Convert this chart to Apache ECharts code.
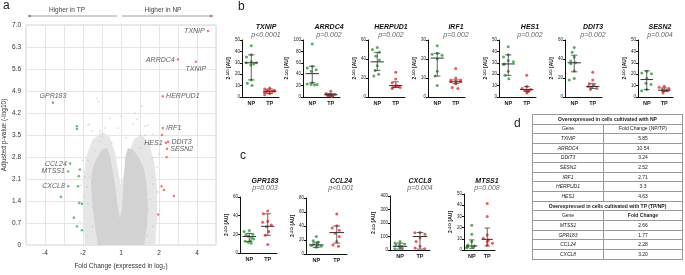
<!DOCTYPE html>
<html lang="en">
<head>
<meta charset="utf-8"/>
<script src="https://cdn.jsdelivr.net/npm/echarts@6.0.0/dist/echarts.min.js"></script>
<style>
  body { margin: 0; background: #fff; }
  #container { position: absolute; left: 0; top: 0; width: 685px; height: 275px; }
  #tbl { position: absolute; left: 532px; top: 114px; width: 151px; border-collapse: collapse;
         font-family: 'Liberation Sans', Arial, sans-serif; font-size: 5px; color: #222; }
  #tbl td { border: 0.8px solid #999; padding: 0; text-align: center; line-height: 1; }
  #tbl tr { height: 9.65px; }
  #tbl .g { font-style: italic; }
  #tbl .h { font-weight: bold; }
</style>
</head>
<body>
<div id="container"></div>
<table id="tbl"></table>
<script type="text/javascript">
// ---- panel a: volcano ----
var fcTickPos = [-2, -1, 0, 1, 2];
var fcTickText = ['-4', '-2', '1', '2', '4'];

// outline of the sparse grey halo and of the dense grey cloud (log2 FC, -log10 p)
var haloOutline = [
  [-0.95, 0], [-1.0, 1.0], [-1.0, 2.0], [-0.92, 2.8], [-0.75, 3.35], [-0.5, 3.6], [-0.3, 3.45],
  [-0.15, 2.9], [-0.05, 2.2], [0, 1.9], [0.08, 2.3], [0.2, 2.9], [0.35, 3.4], [0.55, 3.5],
  [0.75, 3.2], [0.88, 2.6], [0.95, 1.8], [0.95, 0.9], [0.9, 0]
];
var cloudOutline = [
  [-0.61, 0], [-0.68, 0.59], [-0.76, 1.38], [-0.79, 2.0], [-0.74, 2.47], [-0.63, 2.78],
  [-0.5, 3.03], [-0.37, 3.09], [-0.29, 2.84], [-0.21, 2.31], [-0.13, 1.69], [-0.08, 1.16],
  [-0.03, 0.84], [0.03, 1.16], [0.05, 1.69], [0.08, 2.31], [0.11, 2.78], [0.18, 3.09],
  [0.32, 3.03], [0.47, 2.78], [0.61, 2.41], [0.68, 1.84], [0.71, 1.22], [0.68, 0.59], [0.61, 0]
];
var greyPoints = [
  [-0.63, 4.66], [-0.61, 4.56], [-0.84, 3.84], [-0.42, 3.72], [0.55, 4.41], [0.37, 4.19],
  [0.32, 3.84], [0.63, 3.78], [0.71, 3.81], [0.42, 4.0], [-0.5, 3.47], [0.5, 3.5], [0.84, 3.53],
  [-0.87, 3.81], [-0.76, 3.63], [-0.55, 3.31], [-0.08, 3.72], [0.63, 3.5], [0.76, 3.19],
  [-0.68, 3.0], [-0.87, 2.69], [-0.95, 2.16], [-0.95, 1.53], [-0.76, 1.22], [0.82, 2.78],
  [0.84, 1.94], [0.76, 1.44], [0.71, 1.13], [-0.82, 2.16], [-0.89, 1.84], [-0.87, 1.31],
  [-0.74, 0.59], [-0.89, 0.28], [0.82, 2.16], [0.84, 0.59], [0.68, 0.28], [-0.55, 3.63],
  [-1.0, 2.69], [0.5, 3.09], [0.95, 2.47], [-0.24, 3.25], [0.13, 3.41], [-0.29, 4.03],
  [0.0, 4.1], [-1.08, 0.75], [0.97, 1.69], [-1.05, 1.9], [1.02, 1.1], [1.0, 2.9], [-1.1, 2.4]
];
var redPoints = [
  [2.29, 6.81, 'TXNIP'], [1.97, 5.83, 'TXNIP'], [1.50, 5.90, 'ARRDC4'], [1.10, 4.73, 'HERPUD1'],
  [1.10, 3.72, 'IRF1'], [1.08, 3.50, ''], [1.18, 3.25, 'HES1'], [1.24, 3.28, 'DDIT3'],
  [1.21, 3.06, 'SESN2'], [1.20, 2.80, ''], [1.07, 1.87, ''], [1.13, 1.75, ''],
  [1.39, 1.56, ''], [0.98, 0.97, '']
];
var greenPoints = [
  [-1.79, 4.53, 'GPR183'], [-1.16, 3.78, ''], [-1.16, 3.69, ''], [-1.34, 2.59, 'CCL24'],
  [-1.08, 2.40, ''], [-1.39, 2.34, 'MTSS1'], [-1.11, 2.19, ''], [-1.39, 1.87, 'CXCL8'],
  [-1.13, 1.87, ''], [-1.58, 1.53, ''], [-1.10, 1.34, ''], [-1.03, 1.31, ''],
  [-1.24, 0.87, ''], [-1.16, 0.59, ''], [-1.03, 0.47, '']
];
var redLabelPos = ['left', 'bottom', 'left', 'right', 'right', 'right', 'left', 'right', 'right', 'right', 'right', 'right', 'right', 'right'];
var greenLabelPos = ['top', 'left', 'left', 'left', 'left', 'left', 'left', 'left', 'left', 'left', 'left', 'left', 'left', 'left', 'left'];

// ---- panel b ----
var bGenes = ['TXNIP', 'ARRDC4', 'HERPUD1', 'IRF1', 'HES1', 'DDIT3', 'SESN2'];
var bPvals = ['p<0.0001', 'p=0.002', 'p=0.002', 'p=0.002', 'p=0.002', 'p=0.002', 'p=0.004'];
var bYMax = [50, 100, 60, 30, 50, 60, 50];
var bYStep = [10, 20, 20, 10, 10, 20, 10];
var bNP = [
  [45, 37, 35, 31, 30, 30, 29, 28, 15, 12, 10],
  [93, 54, 51, 48, 45, 25, 23, 22, 22, 21],
  [52, 50, 47, 43, 39, 33, 28, 24, 22],
  [27, 23, 22.5, 22, 20, 13.5, 11, 6],
  [44, 37, 35, 32, 31, 29, 28.5, 22.5, 19, 16],
  [52, 47, 42, 38, 36, 35, 27.5, 19.5, 18],
  [22.5, 21, 20.5, 16.5, 12, 11, 6.5, 5.5]
];
var bTP = [
  [8, 7, 6, 6, 5, 5, 5, 4, 4, 3, 2],
  [10, 6, 5, 5, 4, 4, 3, 3, 2, 2, 1],
  [26, 19, 15, 12, 11, 11, 10, 10, 9],
  [15, 10, 9, 9, 8, 8, 8, 7, 5, 4.5],
  [19, 9.5, 7.5, 6.5, 6, 5.5, 5, 4.5, 3.5],
  [26, 18, 14, 12, 11, 10.5, 9, 8],
  [9.5, 8.5, 7.5, 6.5, 6, 5.5, 5, 3.5]
];
// [centre, low, high]
var bNPbar = [[30, 15, 37], [41, 25, 54], [37, 28, 47], [20.5, 11, 23], [29, 19, 37], [36, 26.5, 44], [15.3, 6.5, 23]];
var bTPbar = [[5, 3, 7], [4, 2, 6], [12, 10, 16], [8, 7, 9], [6.5, 5, 9], [11, 9, 14], [6, 5, 8]];

// ---- panel c ----
var cGenes = ['GPR183', 'CCL24', 'CXCL8', 'MTSS1'];
var cPvals = ['p=0.003', 'p<0.001', 'p=0.004', 'p=0.008'];
var cYMax = [60, 80, 400, 50];
var cYStep = [20, 20, 100, 10];
var cNP = [
  [24, 23, 20, 19.5, 18, 16, 15, 13, 12.5, 11.5, 10.5],
  [25, 19, 17, 15.5, 14, 13, 12, 11, 9.5],
  [63, 51, 45, 39, 33, 27, 20, 15, 10],
  [22, 14, 7.5, 4.5, 3.5, 3, 2.5, 2.5, 2]
];
var cTP = [
  [45, 42, 34, 33, 30, 28, 23, 19, 9],
  [57, 40.5, 37, 34, 29.5, 25, 18, 13, 11],
  [129, 127, 117, 88, 63, 27, 15, 10],
  [41.5, 30, 13.5, 10.5, 9, 7.5, 6, 4.5]
];
var cNPbar = [[17.7, 12.4, 21], [13, 9.5, 17], [27, 7, 51], [3.6, 1.5, 9]];
var cTPbar = [[28.6, 19, 42], [30.6, 15.5, 40], [100, 7, 129], [9.5, 3.6, 19.6]];

// ---- panel d ----
var npGenes = ['TXNIP', 'ARRDC4', 'DDIT3', 'SESN2', 'IRF1', 'HERPUD1', 'HES1'];
var npFold = ['5.85', '10.54', '3.24', '2.52', '2.71', '3.3', '4.63'];
var tpGenes = ['MTSS1', 'GPR183', 'CCL24', 'CXCL8'];
var tpFold = ['2.66', '1.77', '2.28', '3.20'];

// layout of the small plots
var bLayout = [
  {left: 242, w: 37, tx: 266}, {left: 303, w: 37, tx: 329}, {left: 368, w: 37, tx: 391},
  {left: 428, w: 37, tx: 456}, {left: 499, w: 37, tx: 530}, {left: 565, w: 37, tx: 593},
  {left: 638, w: 35, tx: 660}
];
var cLayout = [
  {left: 240, w: 37, top: 197, h: 56, tx: 265}, {left: 306, w: 41, top: 198, h: 56, tx: 341},
  {left: 390, w: 40, top: 196, h: 54, tx: 420}, {left: 464, w: 31, top: 194, h: 56, tx: 487}
];

var FONT = "'Liberation Sans', Arial, sans-serif";
var GREEN = '#2f9a3a', RED = '#ec2f2f';

var myChart = echarts.init(document.getElementById('container'));
var grids = [], xAxes = [], yAxes = [], series = [], texts = [];

function txt(x, y, s, font, fill, align) {
  return {type: 'text', x: x, y: y, z: 10, style: {text: s, font: font, fill: fill || '#222',
    textAlign: align || 'center', textVerticalAlign: 'middle', align: align || 'center', verticalAlign: 'middle'}};
}

// volcano grid
grids.push({left: 26, top: 25, width: 190, height: 224, show: true, borderColor: '#d5d5d5', borderWidth: 1});
xAxes.push({
  gridIndex: 0, type: 'value', min: -2.5, max: 2.5, interval: 0.5,
  axisLine: {show: false}, axisTick: {show: false},
  axisLabel: {fontSize: 6.5, color: '#333', margin: 5, fontFamily: FONT,
    formatter: function (v) { var i = fcTickPos.indexOf(v); return i < 0 ? '' : fcTickText[i]; }},
  splitLine: {lineStyle: {color: '#e6e6e6'}},
  name: 'Fold Change (expressed in log\u2082)', nameLocation: 'middle', nameGap: 18,
  nameTextStyle: {fontSize: 6.5, color: '#333', fontFamily: FONT}
});
yAxes.push({
  gridIndex: 0, type: 'value', min: 0, max: 7, interval: 0.7,
  axisLine: {show: false}, axisTick: {show: false},
  axisLabel: {fontSize: 6.5, color: '#333', margin: 5, fontFamily: FONT,
    formatter: function (v) { return v === 0 ? '0' : v.toFixed(1); }},
  splitLine: {lineStyle: {color: '#e6e6e6'}},
  name: 'Adjusted p-value (-log10)', nameLocation: 'middle', nameGap: 15,
  nameTextStyle: {fontSize: 6.5, color: '#333', fontFamily: FONT}
});

function polygonSeries(outline, fill, z) {
  return {
    type: 'custom', xAxisIndex: 0, yAxisIndex: 0, data: outline, z: z, silent: true,
    renderItem: function (params, api) {
      if (params.dataIndex !== 0) return null;
      var pts = outline.map(function (p) { return api.coord(p); });
      return {type: 'polygon', shape: {points: pts}, style: {fill: fill}};
    }
  };
}
series.push(polygonSeries(haloOutline, '#e6e6e6', 1));
series.push(polygonSeries(cloudOutline, '#d2d2d2', 1));
series.push({type: 'scatter', xAxisIndex: 0, yAxisIndex: 0, data: greyPoints, symbolSize: 1.6,
  itemStyle: {color: '#c6c6c6'}, z: 2});

function labelled(list, pos) {
  return list.map(function (p, i) {
    return {value: [p[0], p[1]], name: p[2],
      label: {show: p[2] !== '', position: pos[i], distance: 2, formatter: '{b}',
        fontSize: 7, fontStyle: 'italic', color: '#333', fontFamily: FONT}};
  });
}
series.push({type: 'scatter', xAxisIndex: 0, yAxisIndex: 0, data: labelled(redPoints, redLabelPos),
  symbolSize: 2.6, itemStyle: {color: '#f25a5a'}, z: 3});
series.push({type: 'scatter', xAxisIndex: 0, yAxisIndex: 0, data: labelled(greenPoints, greenLabelPos),
  symbolSize: 2.6, itemStyle: {color: '#4cb050'}, z: 3});

// dot plots
function renderBar(params, api) {
  var x = api.value(0);
  var c = api.coord([x, api.value(1)]);
  var lo = api.coord([x, api.value(2)]);
  var hi = api.coord([x, api.value(3)]);
  var bw = api.size([1, 0])[0];
  var hw = bw * 0.36, cw = bw * 0.17;
  var st = {stroke: '#3c3c3c', lineWidth: 0.8};
  return {type: 'group', children: [
    {type: 'line', shape: {x1: c[0] - hw, y1: c[1], x2: c[0] + hw, y2: c[1]}, style: {stroke: '#333', lineWidth: 1}},
    {type: 'line', shape: {x1: lo[0], y1: lo[1], x2: hi[0], y2: hi[1]}, style: st},
    {type: 'line', shape: {x1: lo[0] - cw, y1: lo[1], x2: lo[0] + cw, y2: lo[1]}, style: st},
    {type: 'line', shape: {x1: hi[0] - cw, y1: hi[1], x2: hi[0] + cw, y2: hi[1]}, style: st}
  ]};
}

function addDotPlot(g, ymax, ystep, np, tp, npBar, tpBar) {
  var gi = grids.length;
  grids.push(g);
  xAxes.push({
    gridIndex: gi, type: 'category', data: ['NP', 'TP'],
    jitter: 11, jitterOverlap: false, jitterMargin: 2.2,
    axisLine: {lineStyle: {color: '#111', width: 1}},
    axisTick: {alignWithLabel: true, length: 2, lineStyle: {color: '#111'}},
    axisLabel: {fontSize: 5.5, fontWeight: 'bold', color: '#222', margin: 3, fontFamily: FONT}
  });
  yAxes.push({
    gridIndex: gi, type: 'value', min: 0, max: ymax, interval: ystep,
    axisLine: {show: true, lineStyle: {color: '#111', width: 1}},
    axisTick: {show: true, length: 2, lineStyle: {color: '#111'}},
    axisLabel: {fontSize: 4.5, color: '#222', margin: 2, fontFamily: FONT},
    splitLine: {show: false},
    name: '2{s|-\u0394Ct} [AU]', nameLocation: 'middle', nameGap: 10,
    nameTextStyle: {fontSize: 5, fontWeight: 'bold', color: '#222', fontFamily: FONT,
      rich: {s: {fontSize: 3.5, fontWeight: 'bold', verticalAlign: 'top', color: '#222'}}}
  });
  series.push({type: 'scatter', xAxisIndex: gi, yAxisIndex: gi, symbolSize: 3,
    data: np.map(function (v) { return [0, v]; }), itemStyle: {color: GREEN}, z: 3});
  series.push({type: 'scatter', xAxisIndex: gi, yAxisIndex: gi, symbolSize: 3,
    data: tp.map(function (v) { return [1, v]; }), itemStyle: {color: RED}, z: 3});
  series.push({type: 'custom', xAxisIndex: gi, yAxisIndex: gi, renderItem: renderBar, z: 5,
    encode: {x: 0, y: [1, 2, 3]},
    data: [[0, npBar[0], npBar[1], npBar[2]], [1, tpBar[0], tpBar[1], tpBar[2]]]});
}

bGenes.forEach(function (gname, i) {
  var L = bLayout[i];
  addDotPlot({left: L.left, top: 40, width: L.w, height: 57}, bYMax[i], bYStep[i], bNP[i], bTP[i], bNPbar[i], bTPbar[i]);
  texts.push(txt(L.tx, 27, gname, 'italic bold 7px ' + FONT, '#111'));
  texts.push(txt(L.tx, 35.5, bPvals[i], 'italic 7px ' + FONT, '#666'));
});
cGenes.forEach(function (gname, i) {
  var L = cLayout[i];
  addDotPlot({left: L.left, top: L.top, width: L.w, height: L.h}, cYMax[i], cYStep[i], cNP[i], cTP[i], cNPbar[i], cTPbar[i]);
  texts.push(txt(L.tx, 181, gname, 'italic bold 7px ' + FONT, '#111'));
  texts.push(txt(L.tx, 188.5, cPvals[i], 'italic 7px ' + FONT, '#666'));
});

// panel letters, arrows
texts.push(txt(3, 6, 'a', '12px ' + FONT, '#222', 'left'));
texts.push(txt(238, 7, 'b', '12px ' + FONT, '#222', 'left'));
texts.push(txt(240, 156, 'c', '12px ' + FONT, '#222', 'left'));
texts.push(txt(514, 124, 'd', '12px ' + FONT, '#222', 'left'));
texts.push(txt(67, 10, 'Higher in TP', '6.5px ' + FONT, '#444'));
texts.push(txt(163, 10, 'Higher in NP', '6.5px ' + FONT, '#444'));
texts.push({type: 'line', shape: {x1: 29, y1: 16, x2: 117, y2: 16}, style: {stroke: '#888', lineWidth: 0.8}});
texts.push({type: 'polygon', shape: {points: [[27, 16], [31, 14.6], [31, 17.4]]}, style: {fill: '#888'}});
texts.push({type: 'line', shape: {x1: 122, y1: 16, x2: 211, y2: 16}, style: {stroke: '#888', lineWidth: 0.8}});
texts.push({type: 'polygon', shape: {points: [[214, 16], [210, 14.6], [210, 17.4]]}, style: {fill: '#888'}});

var option = {
  animation: false,
  textStyle: {fontFamily: FONT},
  grid: grids,
  xAxis: xAxes,
  yAxis: yAxes,
  series: series,
  graphic: {elements: texts}
};
myChart.setOption(option);

// table d
var tbl = document.getElementById('tbl');
function row(cells) {
  var tr = document.createElement('tr');
  cells.forEach(function (c) {
    var td = document.createElement('td');
    td.textContent = c.t;
    if (c.span) td.colSpan = c.span;
    if (c.cls) td.className = c.cls;
    if (c.w) td.style.width = c.w;
    tr.appendChild(td);
  });
  tbl.appendChild(tr);
}
row([{t: 'Overexpressed in cells cultivated with NP', span: 2, cls: 'h'}]);
row([{t: 'Gene', w: '70px'}, {t: 'Fold Change (NP/TP)'}]);
npGenes.forEach(function (g, i) { row([{t: g, cls: 'g'}, {t: npFold[i]}]); });
row([{t: 'Overexpressed in cells cultivated with TP (TP/NP)', span: 2, cls: 'h'}]);
row([{t: 'Gene'}, {t: 'Fold Change', cls: 'h'}]);
tpGenes.forEach(function (g, i) { row([{t: g, cls: 'g'}, {t: tpFold[i]}]); });
</script>
</body>
</html>
